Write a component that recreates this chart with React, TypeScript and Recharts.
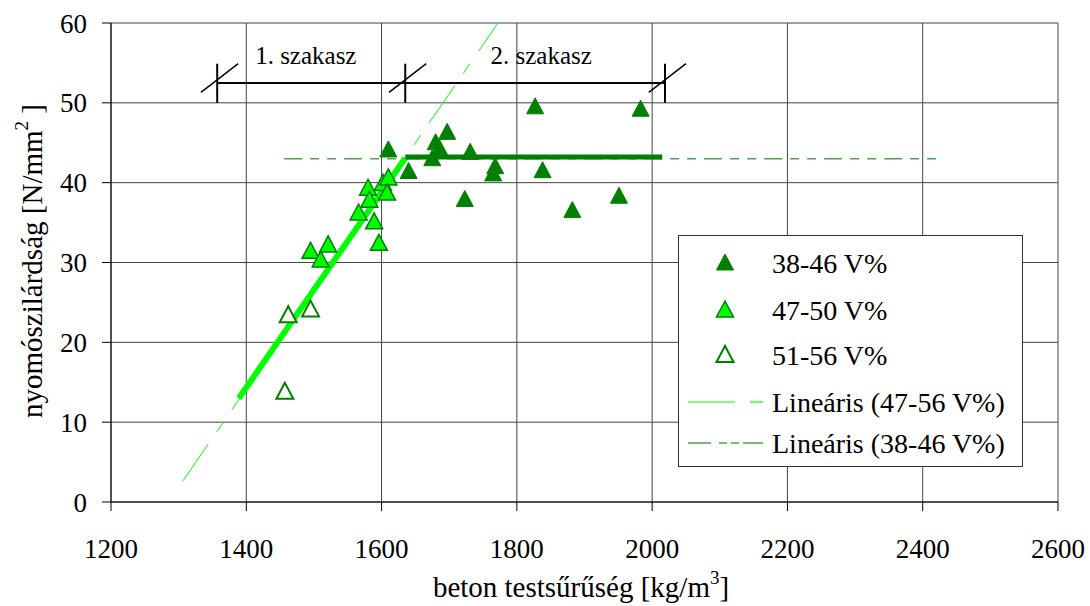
import React from "react";
import {
  ComposedChart,
  Scatter,
  Line,
  XAxis,
  YAxis,
  CartesianGrid,
  ReferenceLine,
  ReferenceDot,
} from "recharts";

// 38-46 V% (sötétzöld, teli)
const pontok3846 = [
  { x: 1610, y: 44.1 },
  { x: 1640, y: 41.4 },
  { x: 1675, y: 43.0 },
  { x: 1680, y: 45.0 },
  { x: 1686, y: 44.2 },
  { x: 1697, y: 46.3 },
  { x: 1731, y: 43.8 },
  { x: 1768, y: 42.0 },
  { x: 1765, y: 41.1 },
  { x: 1723, y: 37.9 },
  { x: 1827, y: 49.5 },
  { x: 1838, y: 41.5 },
  { x: 1882, y: 36.5 },
  { x: 1951, y: 38.3 },
  { x: 1983, y: 49.2 },
];

// 47-50 V% (világoszöld)
const pontok4750 = [
  { x: 1580, y: 39.3 },
  { x: 1582, y: 37.8 },
  { x: 1602, y: 39.9 },
  { x: 1610, y: 40.6 },
  { x: 1608, y: 38.7 },
  { x: 1566, y: 36.2 },
  { x: 1589, y: 35.1 },
  { x: 1596, y: 32.4 },
  { x: 1495, y: 31.4 },
  { x: 1521, y: 32.2 },
  { x: 1510, y: 30.3 },
];

// 51-56 V% (üres)
const pontok5156 = [
  { x: 1462, y: 23.4 },
  { x: 1495, y: 24.1 },
  { x: 1457, y: 13.8 },
];

// trendvonalak
const trend4756 = [
  { x: 1306, y: 2.6 },
  { x: 1772, y: 60 },
];
const szakasz1 = [
  { x: 1389, y: 13.0 },
  { x: 1635, y: 43.1 },
];
const trend3846 = [
  { x: 1456, y: 43.0 },
  { x: 2420, y: 43.0 },
];
const szakasz2 = [
  { x: 1635, y: 43.2 },
  { x: 2015, y: 43.2 },
];

const xTicks = [1200, 1400, 1600, 1800, 2000, 2200, 2400, 2600];
const yTicks = [0, 10, 20, 30, 40, 50, 60];

// szakasz jelölések
const hatarok = [1357, 1635, 2019];
const hatarY = 52.5;
const cimkek = [
  { x: 1488, y: 56.0, text: "1. szakasz" },
  { x: 1836, y: 56.0, text: "2. szakasz" },
];
const jelmagyarazat = ["38-46 V%", "47-50 V%", "51-56 V%", "Lineáris (47-56 V%)", "Lineáris (38-46 V%)"];

const SOTET = "#008000";
const VILAGOS = "#00ff00";
const FONT = "Liberation Serif";

function Haromszog({ cx, cy, fill, stroke, sw }: any) {
  if (cx == null || cy == null) return null;
  return (
    <polygon
      points={`${cx},${cy - 9} ${cx - 8.5},${cy + 7} ${cx + 8.5},${cy + 7}`}
      fill={fill}
      stroke={stroke}
      strokeWidth={sw}
    />
  );
}

function Jelmagyarazat() {
  const sorok = [28, 75, 120, 167, 208];
  return (
    <svg width={345} height={232} style={{ display: "block" }}>
      <rect x={0.5} y={0.5} width={344} height={231} fill="#fff" stroke="#333" />
      <Haromszog cx={47} cy={sorok[0]} fill={SOTET} stroke={SOTET} sw={1} />
      <Haromszog cx={47} cy={sorok[1]} fill={VILAGOS} stroke={SOTET} sw={1.5} />
      <Haromszog cx={47} cy={sorok[2]} fill="#fff" stroke={SOTET} sw={2} />
      <line x1={10} x2={57} y1={sorok[3]} y2={sorok[3]} stroke={VILAGOS} strokeWidth={1.2} />
      <line x1={72} x2={85} y1={sorok[3]} y2={sorok[3]} stroke={VILAGOS} strokeWidth={1.2} />
      <line x1={10} x2={85} y1={sorok[4]} y2={sorok[4]} stroke="#4ca64c" strokeWidth={1.5} strokeDasharray="23 8 8 4 8 4" />
      {jelmagyarazat.map((t, i) => (
        <text key={t} x={94} y={sorok[i]} dy="0.35em" fontFamily={FONT} fontSize={28} fill="#000">
          {t}
        </text>
      ))}
    </svg>
  );
}

export default function App() {
  return (
    <div style={{ position: "absolute", left: 0, top: 0, width: 1090, height: 606, background: "#fff" }}>
      <ComposedChart
        width={1090}
        height={606}
        margin={{ top: 23, right: 32, left: 0, bottom: 0 }}
      >
        <CartesianGrid stroke="#444" strokeWidth={1} horizontalValues={yTicks} verticalValues={xTicks} />
        <XAxis
          type="number"
          dataKey="x"
          domain={[1200, 2600]}
          ticks={xTicks}
          allowDataOverflow
          height={104}
          tickSize={9}
          tickMargin={28}
          stroke="#000"
          tick={{ fontFamily: FONT, fontSize: 27, fill: "#000" }}
          label={{
            content: () => (
              <text x={581} y={597} textAnchor="middle" fontFamily={FONT} fontSize={29} fill="#000">
                beton testsűrűség [kg/m
                <tspan dy={-13} fontSize={19}>3</tspan>
                <tspan dy={13}>]</tspan>
              </text>
            ),
          }}
        />
        <YAxis
          type="number"
          dataKey="y"
          domain={[0, 60]}
          ticks={yTicks}
          allowDataOverflow
          width={111}
          tickSize={9}
          tickMargin={15}
          stroke="#000"
          tick={{ fontFamily: FONT, fontSize: 27, fill: "#000" }}
          label={{
            content: () => (
              <text
                x={0}
                y={0}
                transform="translate(42,261) rotate(-90)"
                textAnchor="middle"
                fontFamily={FONT}
                fontSize={29}
                fill="#000"
              >
                nyomószilárdság [N/mm
                <tspan dy={-14} fontSize={19}>2</tspan>
                <tspan dy={14}> ]</tspan>
              </text>
            ),
          }}
        />

        <Line data={trend4756} dataKey="y" stroke={VILAGOS} strokeWidth={1} strokeDasharray="45 15 12 15" dot={false} isAnimationActive={false} />
        <Line data={trend3846} dataKey="y" stroke="#4ca64c" strokeWidth={1.5} strokeDasharray="18 8 9 8 9 8" dot={false} isAnimationActive={false} />

        <Scatter data={pontok5156} dataKey="y" isAnimationActive={false} shape={(p: any) => <Haromszog {...p} fill="#fff" stroke={SOTET} sw={2} />} />
        <Scatter data={pontok4750} dataKey="y" isAnimationActive={false} shape={(p: any) => <Haromszog {...p} fill={VILAGOS} stroke={SOTET} sw={1.5} />} />
        <Scatter data={pontok3846} dataKey="y" isAnimationActive={false} shape={(p: any) => <Haromszog {...p} fill={SOTET} stroke={SOTET} sw={1} />} />

        <Line data={szakasz1} dataKey="y" stroke={VILAGOS} strokeWidth={6} dot={false} isAnimationActive={false} />
        <Line data={szakasz2} dataKey="y" stroke={SOTET} strokeWidth={5} dot={false} isAnimationActive={false} />

        <ReferenceLine
          segment={[
            { x: hatarok[0], y: hatarY },
            { x: hatarok[2], y: hatarY },
          ]}
          stroke="#000"
          strokeWidth={2}
        />
        {hatarok.map((h) => (
          <ReferenceLine
            key={`v${h}`}
            segment={[
              { x: h, y: 50.0 },
              { x: h, y: 54.9 },
            ]}
            stroke="#000"
            strokeWidth={2}
          />
        ))}
        {hatarok.map((h) => (
          <ReferenceLine
            key={`s${h}`}
            segment={[
              { x: h - 24, y: 51.3 },
              { x: h + 31, y: 54.9 },
            ]}
            stroke="#000"
            strokeWidth={1.5}
          />
        ))}
        {cimkek.map((c) => (
          <ReferenceDot
            key={c.text}
            x={c.x}
            y={c.y}
            r={0}
            stroke="none"
            label={{ value: c.text, position: "center", fontFamily: FONT, fontSize: 25, fill: "#000" }}
          />
        ))}
      </ComposedChart>
      <div style={{ position: "absolute", left: 678, top: 235 }}>
        <Jelmagyarazat />
      </div>
    </div>
  );
}
